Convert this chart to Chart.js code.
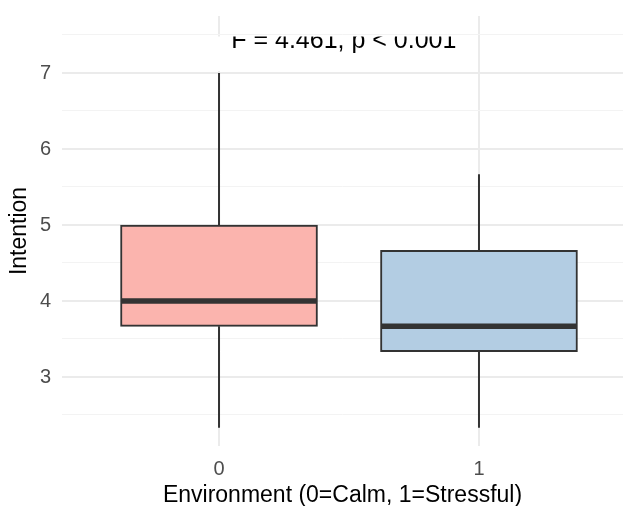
<!DOCTYPE html>
<html>
<head>
<meta charset="utf-8">
<script src="https://cdn.jsdelivr.net/npm/chart.js@4"></script>
<style>
  html, body { margin: 0; padding: 0; background: #ffffff; }
  #wrap { width: 623px; height: 506px; }
</style>
</head>
<body>
<div id="wrap"><canvas id="c" width="623" height="506"></canvas></div>
<script>
const categories = ['0', '1'];
const whiskerLow = [2.333, 2.333];
const q1 = [3.667, 3.333];
const medians = [4, 3.667];
const q3 = [5, 4.667];
const whiskerHigh = [7, 5.667];
const fillColors = ['#FBB4AE', '#B3CDE3'];
const yTicks = [2.5, 3, 3.5, 4, 4.5, 5, 5.5, 6, 6.5, 7, 7.5];
const annotationText = 'F = 4.461, p < 0.001';
const annotationX = 1.48;
const annotationY = 7.333;

const FONT = '"Liberation Sans", Arial, Helvetica, sans-serif';
const xPos = categories.map((c, i) => i + 1);
const halfBox = 0.375;

const boxData = xPos.map((x, i) => ({ x: x, y: [q1[i], q3[i]] }));
const whiskerData = [];
xPos.forEach((x, i) => {
  whiskerData.push({ x: x, y: q3[i] }, { x: x, y: whiskerHigh[i] }, { x: x, y: null });
  whiskerData.push({ x: x, y: whiskerLow[i] }, { x: x, y: q1[i] }, { x: x, y: null });
});
const medianData = [];
xPos.forEach((x, i) => {
  medianData.push({ x: x - halfBox, y: medians[i] }, { x: x + halfBox, y: medians[i] }, { x: x, y: null });
});

const annotationPlugin = {
  id: 'annot',
  beforeDatasetsDraw(chart) {
    const ctx = chart.ctx;
    const xs = chart.scales.x, ys = chart.scales.y;
    const cx = xs.getPixelForValue(annotationX);
    const by = ys.getPixelForValue(annotationY);
    ctx.save();
    ctx.font = '25px ' + FONT;
    const w = ctx.measureText(annotationText).width;
    const top = ys.getPixelForValue(7.5) + 1.5;
    const bottom = ys.getPixelForValue(7) - 2;
    ctx.fillStyle = '#ffffff';
    ctx.fillRect(cx - w / 2 - 16, top, w + 32, bottom - top);
    ctx.beginPath();
    ctx.rect(0, top, chart.width, bottom - top);
    ctx.clip();
    ctx.fillStyle = '#000000';
    ctx.textAlign = 'center';
    ctx.textBaseline = 'alphabetic';
    ctx.fillText(annotationText, cx, by);
    ctx.restore();
  }
};

new Chart(document.getElementById('c'), {
  data: {
    datasets: [
      {
        type: 'line',
        data: medianData,
        borderColor: '#333333',
        borderWidth: 5.5,
        borderCapStyle: 'butt',
        pointRadius: 0,
        spanGaps: false,
        order: 0
      },
      {
        type: 'bar',
        data: boxData,
        backgroundColor: fillColors,
        borderColor: '#333333',
        borderWidth: 2,
        borderSkipped: false,
        barThickness: 197,
        order: 1
      },
      {
        type: 'line',
        data: whiskerData,
        borderColor: '#333333',
        borderWidth: 2,
        borderCapStyle: 'butt',
        pointRadius: 0,
        spanGaps: false,
        order: 2
      }
    ]
  },
  options: {
    responsive: false,
    animation: false,
    devicePixelRatio: 1,
    layout: { padding: { top: 16, left: 0, right: 0, bottom: 0 } },
    plugins: { legend: { display: false }, tooltip: { enabled: false } },
    scales: {
      x: {
        type: 'linear',
        offset: false,
        min: 0.396,
        max: 2.554,
        afterBuildTicks: s => { s.ticks = xPos.map(v => ({ value: v })); },
        afterFit: s => { s.height = 60; s.paddingLeft = 0; s.paddingRight = 0; },
        ticks: {
          callback: (v, i) => categories[i],
          font: { family: FONT, size: 20 },
          color: '#4D4D4D',
          padding: 11,
          maxRotation: 0
        },
        grid: { color: '#EBEBEB', lineWidth: 2, drawTicks: false, offset: false },
        border: { display: false },
        title: {
          display: true,
          text: 'Environment (0=Calm, 1=Stressful)',
          font: { family: FONT, size: 23, lineHeight: 1 },
          color: '#000000',
          padding: { top: 0, bottom: -1 }
        }
      },
      y: {
        type: 'linear',
        min: 2.092,
        max: 7.75,
        afterBuildTicks: s => { s.ticks = yTicks.map(v => ({ value: v })); },
        afterFit: s => { s.width = 62; s.paddingTop = 0; s.paddingBottom = 0; },
        ticks: {
          callback: v => Number.isInteger(v) ? String(v) : '',
          font: { family: FONT, size: 20 },
          color: '#4D4D4D',
          padding: 11
        },
        grid: {
          color: c => Number.isInteger(c.tick.value) ? '#EBEBEB' : '#F3F3F3',
          lineWidth: c => Number.isInteger(c.tick.value) ? 2 : 1,
          drawTicks: false
        },
        border: { display: false },
        title: {
          display: true,
          text: 'Intention',
          font: { family: FONT, size: 23, lineHeight: 1 },
          color: '#000000',
          padding: { top: 8, bottom: 0 }
        }
      }
    }
  },
  plugins: [annotationPlugin]
});
</script>
</body>
</html>
